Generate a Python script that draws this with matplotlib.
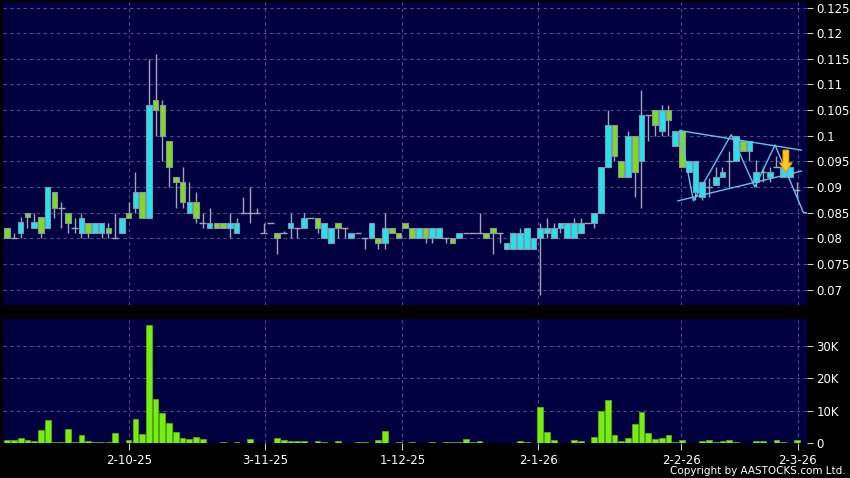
import numpy as np
import matplotlib
matplotlib.use("Agg")
import matplotlib.pyplot as plt
from matplotlib.patches import FancyArrow

# daily OHLC (HKD), oldest first
opens = [.082, .080, .081, .085, .0821, .0841, .0821, .089, .086, .085,
         .082, .081, .083, .081, .081, .082, .080, .081, .085, .086,
         .089, .084, .107, .106, .099, .092, .091, .085, .087, .083,
         .082, .083, .083, .082, .081, .085, .085, .085, .081, .083,
         .081, .081, .082, .082, .082, .084, .084, .080, .079, .083,
         .082, .080, .081, .080, .080, .080, .079, .082, .081, .083,
         .082, .080, .082, .080, .080, .080, .080, .080, .081, .081,
         .081, .081, .082, .081, .078, .078, .078, .078, .078, .080,
         .081, .080, .082, .080, .080, .081, .083, .083, .085, .094,
         .102, .095, .092, .100, .095, .104, .105, .101, .105, .098,
         .101, .093, .089, .088, .090, .0904, .092, .095, .095, .099,
         .097, .091, .093, .092, .094, .092, .092, .0895]
highs = [.082, .081, .0842, .085, .085, .0841, .090, .089, .087, .085,
         .084, .085, .083, .083, .083, .083, .085, .084, .087, .093,
         .089, .115, .116, .107, .099, .092, .094, .091, .089, .085,
         .086, .083, .083, .085, .084, .088, .090, .086, .083, .083,
         .081, .0815, .085, .082, .085, .084, .084, .083, .082, .083,
         .082, .081, .081, .080, .083, .080, .085, .082, .081, .083,
         .082, .082, .082, .082, .082, .080, .080, .081, .081, .081,
         .085, .081, .082, .081, .079, .081, .082, .082, .080, .083,
         .084, .083, .083, .083, .084, .084, .083, .085, .094, .105,
         .102, .095, .101, .100, .109, .104, .105, .106, .106, .101,
         .101, .095, .095, .091, .0917, .094, .094, .097, .100, .099,
         .099, .0953, .094, .094, .096, .094, .094, .091]
lows = [.080, .080, .080, .082, .0821, .080, .0821, .084, .082, .081,
        .081, .080, .080, .081, .080, .080, .080, .081, .084, .085,
        .084, .084, .100, .095, .090, .086, .086, .085, .083, .082,
        .082, .082, .082, .080, .081, .085, .083, .085, .081, .083,
        .077, .081, .080, .080, .082, .084, .081, .080, .079, .080,
        .080, .080, .081, .078, .080, .078, .078, .081, .080, .082,
        .080, .080, .079, .079, .080, .079, .079, .080, .081, .081,
        .081, .080, .077, .079, .078, .078, .078, .078, .078, .069,
        .080, .080, .081, .080, .080, .081, .083, .082, .085, .094,
        .095, .092, .092, .088, .086, .099, .100, .100, .100, .098,
        .094, .093, .0875, .0875, .0881, .0904, .092, .090, .095, .097,
        .095, .090, .091, .091, .094, .092, .092, .088]
closes = [.080, .080, .0831, .0841, .0831, .081, .090, .086, .086, .083,
          .082, .084, .081, .083, .083, .081, .080, .084, .084, .089,
          .084, .106, .105, .100, .094, .091, .087, .087, .084, .083,
          .083, .082, .082, .083, .083, .085, .085, .085, .081, .083,
          .080, .081, .083, .082, .084, .084, .082, .083, .082, .082,
          .082, .081, .081, .080, .083, .079, .082, .081, .080, .082,
          .080, .082, .080, .082, .082, .080, .079, .081, .081, .081,
          .081, .080, .081, .081, .079, .081, .081, .082, .080, .082,
          .082, .082, .083, .083, .083, .083, .083, .085, .094, .102,
          .096, .092, .100, .093, .104, .104, .102, .105, .103, .101,
          .094, .095, .095, .091, .090, .092, .093, .095, .100, .097,
          .099, .093, .093, .093, .094, .094, .094, .0895]
# volume in thousands of shares
volumes = [1.0, 1.0, 1.7, 1.0, 0.7, 4.0, 7.2, 0.3, 0.3, 4.3,
           0.3, 2.7, 0.8, 0.3, 0.3, 0.3, 3.1, 0.2, 1.0, 7.5,
           2.8, 36.4, 13.5, 9.4, 6.3, 3.5, 1.6, 1.4, 1.9, 1.3,
           0.1, 0.0, 0.3, 0.0, 0.3, 0.0, 1.3, 0.0, 0.0, 0.0,
           1.5, 1.1, 0.6, 0.6, 0.8, 0.0, 0.7, 0.4, 0.2, 0.6,
           0.0, 0.0, 0.4, 0.4, 0.0, 0.9, 3.7, 0.0, 0.5, 0.0,
           0.3, 0.0, 0.2, 0.3, 0.0, 0.3, 0.3, 0.3, 1.3, 0.4,
           0.7, 0.2, 0.1, 0.1, 0.1, 0.1, 0.7, 0.3, 0.0, 11.2,
           3.5, 1.1, 0.1, 0.2, 1.1, 0.7, 0.0, 1.9, 10.0, 13.3,
           2.5, 0.7, 1.6, 6.0, 9.7, 3.2, 1.3, 1.6, 2.5, 0.4,
           1.0, 0.1, 0.2, 0.6, 1.0, 0.4, 0.6, 0.9, 0.3, 0.1,
           0.2, 0.6, 0.7, 0.2, 1.0, 0.3, 0.2, 1.1]

date_labels = ['2-10-25', '3-11-25', '1-12-25', '2-1-26', '2-2-26', '2-3-26']
date_pos = [18.1, 38.25, 58.55, 78.7, 99.9, 117.15]

price_ticks = [0.07, 0.075, 0.08, 0.085, 0.09, 0.095, 0.1, 0.105, 0.11, 0.115, 0.12, 0.125]
price_labels = ['0.07', '0.075', '0.08', '0.085', '0.09', '0.095', '0.1', '0.105', '0.11', '0.115', '0.12', '0.125']
vol_ticks = [0, 10, 20, 30]
vol_labels = ['0', '10K', '20K', '30K']

# triangle pattern drawn on the chart (index, price)
upper_x, upper_y = [99.7, 117.7], [0.1010, 0.0972]
lower_x, lower_y = [99.4, 117.7], [0.0873, 0.0931]
zig_x = [99.7, 101.7, 107.3, 110.8, 113.8, 118.0, 118.5]
zig_y = [0.1010, 0.0873, 0.1002, 0.0900, 0.0982, 0.0850, 0.0850]

BG = '#000040'
UP = '#22e4ef'
DOWN = '#7ddc1f'
EDGE = '#8a94a8'
GRID = '#4a5288'
LINE = '#5cc4f2'

o = np.array(opens); h = np.array(highs); l = np.array(lows); c = np.array(closes)
x = np.arange(len(o))

fig = plt.figure(figsize=(8.5, 4.78), dpi=100, facecolor='black')
ax = fig.add_axes([0.0035, 0.362, 0.9455, 0.634], facecolor=BG)
axv = fig.add_axes([0.0035, 0.0726, 0.9455, 0.26], facecolor=BG, sharex=ax)

for a in (ax, axv):
    for s in a.spines.values():
        s.set_visible(False)
    for p in date_pos:
        a.axvline(p, color=GRID, lw=0.8, ls=(0, (3, 3)), zorder=0)

for p in price_ticks:
    ax.axhline(p, color=GRID, lw=0.8, ls=(0, (3, 3)), zorder=0)
for v in vol_ticks[1:]:
    axv.axhline(v, color=GRID, lw=0.8, ls=(0, (3, 3)), zorder=0)

# wicks
ax.vlines(x, l, h, color='#a0a6ba', lw=1, zorder=2)
# bodies
w = 0.84
flat = np.isclose(o, c)
body_lo = np.minimum(o, c)
body_h = np.abs(c - o)
cols = np.where(c > o, UP, DOWN)
ax.bar(x[~flat], body_h[~flat], bottom=body_lo[~flat], width=w,
       color=cols[~flat], edgecolor=EDGE, linewidth=0.8, zorder=3)
ax.hlines(o[flat], x[flat] - 0.5, x[flat] + 0.5, color='#a0a6ba', lw=1, zorder=3)

# triangle lines
ax.plot(upper_x, upper_y, color=LINE, lw=1, zorder=4)
ax.plot(lower_x, lower_y, color=LINE, lw=1, zorder=4)
ax.plot(zig_x, zig_y, color=LINE, lw=1, zorder=4)

# signal arrow
ax.add_patch(FancyArrow(115.4, 0.0972, 0, -0.0042, width=0.85, head_width=1.85,
                        head_length=0.0017, length_includes_head=True,
                        facecolor='#ffc81e', edgecolor='#ff9a00', lw=0.8, zorder=5))

ax.set_xlim(-0.62, 118.48)
ax.set_ylim(0.0670, 0.1261)
ax.yaxis.tick_right()
ax.set_yticks(price_ticks)
ax.set_yticklabels(price_labels)
ax.tick_params(axis='y', colors='#c8c8c8', labelcolor='white', length=4, pad=3, labelsize=8.5)
ax.tick_params(axis='x', bottom=False, labelbottom=False)

axv.bar(x, volumes, width=0.85, color='#77ee11', edgecolor='#5cb80c', linewidth=0.5, zorder=3)
axv.set_ylim(0, 38.2)
axv.yaxis.tick_right()
axv.set_yticks(vol_ticks)
axv.set_yticklabels(vol_labels)
axv.set_xticks(date_pos)
axv.set_xticklabels(date_labels)
axv.tick_params(axis='y', colors='#c8c8c8', labelcolor='white', length=4, pad=3, labelsize=8.5)
axv.tick_params(axis='x', colors='#c8c8c8', labelcolor='white', length=5, pad=3, labelsize=8.5)

fig.text(0.995, 0.0146, 'Copyright by AASTOCKS.com Ltd.', color='white',
         fontsize=7.5, ha='right', va='center')

fig.savefig('out.png', dpi=100, facecolor='black')
